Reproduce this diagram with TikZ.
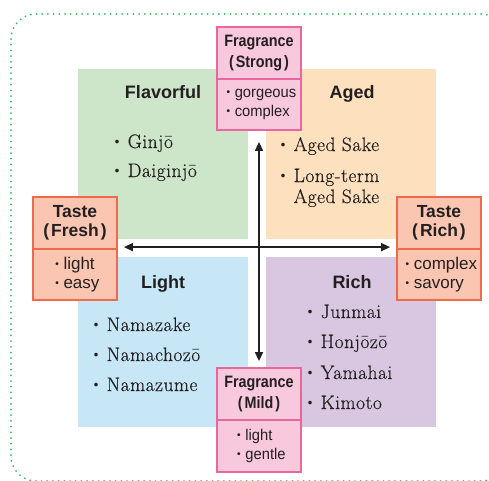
\documentclass[tikz,border=0pt]{standalone}
\usepackage{fontspec}
\setmainfont{Latin Modern Roman}
\setsansfont{Liberation Sans}
\newfontfamily\cjk{Noto Sans CJK JP}
\usetikzlibrary{arrows.meta}
\definecolor{qgreen}{HTML}{CDE5C9}
\definecolor{qorange}{HTML}{FDE0BE}
\definecolor{qblue}{HTML}{C7E7F7}
\definecolor{qpurple}{HTML}{D9C7E1}
\definecolor{pinkfill}{HTML}{F8C8DD}
\definecolor{pinkline}{HTML}{E9679C}
\definecolor{salfill}{HTML}{FAC6B2}
\definecolor{salline}{HTML}{EF6A4B}
\definecolor{dotgreen}{HTML}{2EBD5B}
\definecolor{ink}{HTML}{231F20}
\tikzset{
  quad/.style={minimum width=170pt, minimum height=170pt, inner sep=0pt, draw=none},
  qtitle/.style={anchor=base, inner sep=0pt, text=ink, font=\sffamily\bfseries\fontsize{18}{20}\selectfont},
  item/.style={anchor=base west, inner sep=0pt, text=ink,
    font=\rmfamily\fontsize{19.5}{21}\selectfont\addfontfeature{LetterSpace=2.5,FakeBold=0.4}},
  fbox/.style={draw=pinkline, fill=pinkfill, line width=1.8pt, minimum width=84pt, inner sep=0pt, text=ink},
  tbox/.style={draw=salline, fill=salfill, line width=1.8pt, minimum width=84pt, inner sep=0pt, text=ink},
  fhead/.style={fbox, minimum height=52pt, align=center,
    font=\sffamily\bfseries\fontsize{16.5}{21}\selectfont\addfontfeature{FakeStretch=0.87}},
  flist/.style={fbox, align=left,
    font=\sffamily\fontsize{15.5}{19}\selectfont\addfontfeature{FakeStretch=0.95}},
  thead/.style={tbox, minimum height=52pt, align=center,
    font=\sffamily\bfseries\fontsize{17.5}{19}\selectfont},
  tlist/.style={tbox, align=left,
    font=\sffamily\fontsize{17}{19}\selectfont},
  axis/.style={line width=1.6pt, ink, {Triangle[length=9pt,width=8pt]}-{Triangle[length=9pt,width=8pt]}}
}
\newcommand{\bul}{\makebox[13pt]{\cjk\fontsize{14}{14}\selectfont ・}}
\newcommand{\sbul}{\makebox[21pt]{\cjk\fontsize{17}{17}\selectfont ・}}
\begin{document}
\begin{tikzpicture}[x=1pt,y=-1pt]
\useasboundingbox (0,0) rectangle (489,480);
\begin{scope}
  \clip (0,0) rectangle (489,480);
  \draw[dotgreen, line width=2pt, dash pattern=on 0pt off 5.7pt, line cap=round, rounded corners=25pt]
    (11,14) rectangle (506,481);
\end{scope}
% quadrants
\node[quad, fill=qgreen]  (qfl) at (163,154) {};
\node[quad, fill=qorange] (qag) at (351,154) {};
\node[quad, fill=qblue]   (qli) at (163,342) {};
\node[quad, fill=qpurple] (qri) at (351,342) {};
% titles
\node[qtitle] (tfl) at (163,98) {Flavorful};
\node[qtitle] (tag) at (352,98) {Aged};
\node[qtitle] (tli) at (163,288) {Light};
\node[qtitle] (tri) at (352,288) {Rich};
% items
\node[item] (i1) at (106.5,148) {\sbul Ginjō};
\node[item] (i2) at (106.5,177) {\sbul Daiginjō};
\node[item] (i3) at (272.5,151) {\sbul Aged Sake};
\node[item] (i4) at (272.5,182) {\sbul Long-term};
\node[item] (i4b) at (272.5,203) {\hspace{21pt}Aged Sake};
\node[item] (i5) at (85.5,331) {\sbul Namazake};
\node[item] (i6) at (85.5,361) {\sbul Namachozō};
\node[item] (i7) at (85.5,391) {\sbul Namazume};
\node[item] (i8) at (299.5,318) {\sbul Junmai};
\node[item] (i9) at (299.5,348) {\sbul Honjōzō};
\node[item] (i10) at (299.5,379) {\sbul Yamahai};
\node[item] (i11) at (299.5,409) {\sbul Kimoto};
% boxes
\node[fhead] (fsh) at (259,53) {Fragrance\\(\hspace{2pt}Strong\hspace{2pt})};
\node[flist, minimum height=51pt] (fsl) at (259,104.5) {\bul gorgeous\\\bul complex};
\node[fhead] (fmh) at (259,394) {Fragrance\\(\hspace{2pt}Mild\hspace{2pt})};
\node[flist, minimum height=52pt] (fml) at (259,446) {\bul light\\\bul gentle};
\node[thead] (tfh) at (75,223) {Taste\\(\hspace{2pt}Fresh\hspace{2pt})};
\node[tlist, minimum height=51pt] (tfl2) at (75,274.5) {\bul light\\\bul easy};
\node[thead] (trh) at (439,223) {Taste\\(\hspace{2pt}Rich\hspace{2pt})};
\node[tlist, minimum height=51pt] (trl) at (439,274.5) {\bul complex\\\bul savory};
% axes
\draw[axis] ([yshift=-11pt]fsl.south) -- ([yshift=6pt]fmh.north);
\draw[axis] ([xshift=6pt,yshift=1pt]tfl2.north east) -- ([xshift=-6pt,yshift=1pt]trl.north west);
\end{tikzpicture}
\end{document}
